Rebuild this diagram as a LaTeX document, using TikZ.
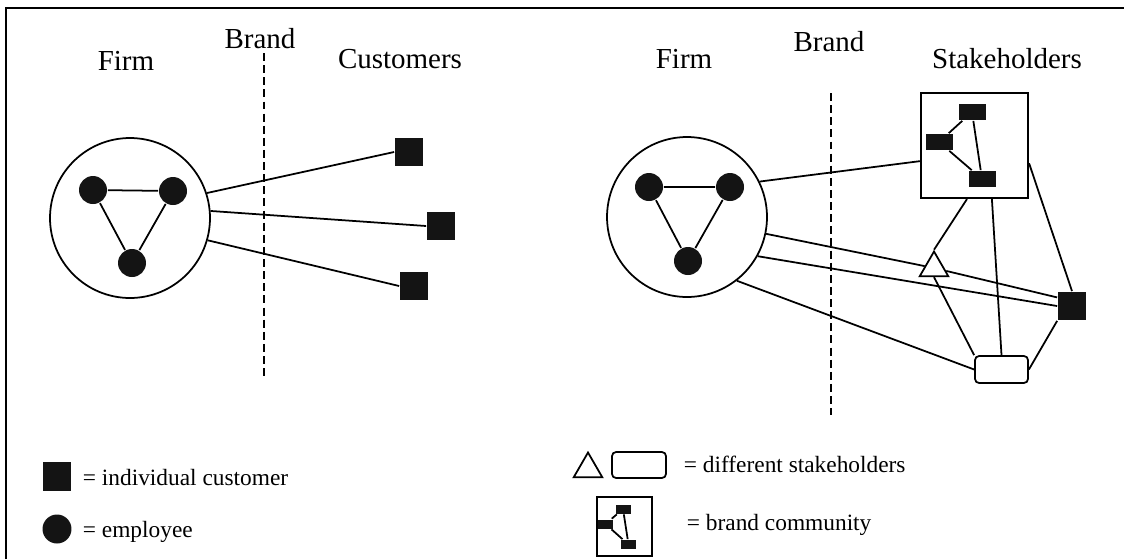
\documentclass[tikz,border=0pt]{standalone}
\usepackage{fontspec}
\setmainfont{Liberation Serif}
\usetikzlibrary{calc,shapes.geometric}

\begin{document}
\begin{tikzpicture}[x=0.02cm,y=-0.02cm,line width=1pt,
    firm/.style={circle,draw,line width=1pt,minimum size=3.2cm,inner sep=0pt},
    staff/.style={circle,fill=black!92,minimum size=0.56cm,inner sep=0pt},
    cust/.style={rectangle,fill=black!92,minimum size=0.56cm,inner sep=0pt},
    member/.style={rectangle,fill=black!92,minimum width=0.54cm,minimum height=0.32cm,inner sep=0pt},
    tinymember/.style={rectangle,fill=black!92,minimum width=0.3cm,minimum height=0.18cm,inner sep=0pt},
    community/.style={rectangle,draw,line width=1.2pt,inner sep=0pt},
    triholder/.style={regular polygon,regular polygon sides=3,draw,minimum size=0.66cm,inner sep=0pt},
    boxholder/.style={rectangle,rounded corners=2.3pt,draw,minimum width=1.06cm,minimum height=0.54cm,inner sep=0pt},
    brandline/.style={line width=1.2pt,dash pattern=on 4.5pt off 2.4pt},
    head/.style={anchor=base,inner sep=0pt,font=\fontsize{16.5}{20}\selectfont},
    legend/.style={anchor=base west,inner sep=0pt,font=\fontsize{13.3}{16}\selectfont}]
    \useasboundingbox (0,0) rectangle (1124,559);
    % frame
    \draw[line width=1.1pt] (6,559) -- (6,8) -- (1124,8);

    % left: firm and customers
    \node[head] (firmLab) at (126,70) {Firm};
    \node[head] (brandLab) at (260,48) {Brand};
    \node[head] (custLab) at (400,68) {Customers};
    \draw[brandline] (264,53) coordinate (brandTop) -- (264,378) coordinate (brandBot);

    \node[firm] (firmA) at (130,218) {};
    \node[staff] (ea) at (93,190) {};
    \node[staff] (eb) at (173,191) {};
    \node[staff] (ec) at (132,263) {};
    \draw (ea) -- (eb) -- (ec) -- (ea);

    \node[cust] (custA) at (409,152) {};
    \node[cust] (custB) at (441,226) {};
    \node[cust] (custC) at (414,286) {};
    \draw (firmA.18) -- (custA.west);
    \draw (firmA.5) -- (custB.west);
    \draw (firmA.-16) -- (custC.west);

    % right: firm and stakeholders
    \node[head] (firmLabB) at (684,68) {Firm};
    \node[head] (brandLabB) at (829,51) {Brand};
    \node[head] (stakeLab) at (1007,68) {Stakeholders};
    \draw[brandline] (831,93) coordinate (brandTopB) -- (831,415) coordinate (brandBotB);

    \node[firm] (firmB) at (687,217) {};
    \node[staff] (fa) at (649,187) {};
    \node[staff] (fb) at (730,187) {};
    \node[staff] (fc) at (688,261) {};
    \draw (fa) -- (fb) -- (fc) -- (fa);

    \node[community,minimum width=2.14cm,minimum height=2.1cm] (comm) at (974.5,145.5) {};
    \node[member] (ma) at (972,112) {};
    \node[member] (mb) at (939,142) {};
    \node[member] (mc) at (982,179) {};
    \draw (mb) -- (ma) -- (mc) -- (mb);

    \node[triholder] (tri) at (934,268) {};
    \node[cust] (sqR) at (1072,306) {};
    \node[boxholder] (stk) at (1001.5,369.5) {};

    \draw (firmB.26) -- (comm.196);
    \draw (firmB.-12) -- (tri);
    \draw (firmB.-29) -- (sqR.west);
    \draw (firmB.-52) -- (stk.west);
    \draw (comm.262) -- (tri.corner 1);
    \draw (comm.-72) -- (stk.north);
    \draw (comm.-18) -- (sqR.north);
    \draw (tri) -- (sqR.150);
    \draw (tri.south) -- (stk.north west);
    \draw (stk.east) -- (sqR.south west);

    % legend
    \node[cust,minimum size=0.58cm] (keyCust) at (57,476) {};
    \node[legend] (keyCustTxt) at (82,485) {= individual customer};
    \node[staff,minimum size=0.58cm] (keyStaff) at (57,529) {};
    \node[legend] (keyStaffTxt) at (82,537) {= employee};

    \node[triholder] (keyTri) at (588,469) {};
    \node[boxholder,minimum width=1.08cm,minimum height=0.52cm] (keyBox) at (639,465) {};
    \node[legend] (keyStakeTxt) at (683,472) {= different stakeholders};
    \node[community,minimum width=1.1cm,minimum height=1.18cm] (keyComm) at (624.5,526.5) {};
    \node[tinymember] (ka) at (623,509) {};
    \node[tinymember] (kb) at (605.5,524) {};
    \node[tinymember] (kc) at (628.5,544.5) {};
    \draw (kb) -- (ka) -- (kc) -- (kb);
    \node[legend] (keyCommTxt) at (686,530) {= brand community};
\end{tikzpicture}
\end{document}
